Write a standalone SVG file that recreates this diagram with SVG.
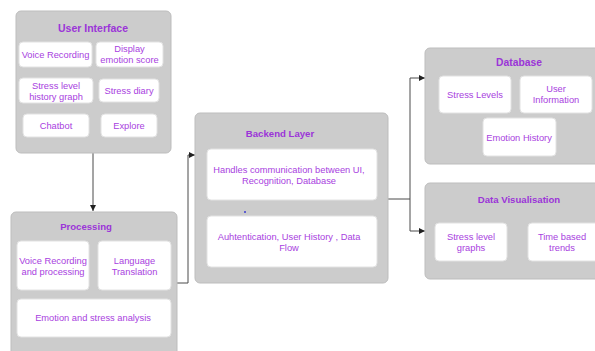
<svg xmlns="http://www.w3.org/2000/svg" width="595" height="351" viewBox="0 0 595 351">
<style>
.outer{fill:#cccccc;stroke:#bdbdbd;stroke-width:1}
.inner{fill:#ffffff;stroke:#e2e2e2;stroke-width:1}
.t{font-family:"Liberation Sans",Arial,sans-serif;font-size:9.3px;fill:#a83ee0;text-anchor:middle}
.h{font-family:"Liberation Sans",Arial,sans-serif;font-size:9.6px;font-weight:bold;fill:#9b34d8;text-anchor:middle}
.c{fill:none;stroke:#4a4a4a;stroke-width:1}
</style>
<defs>
<marker id="ar" viewBox="0 0 6 6" refX="6" refY="3" markerWidth="6" markerHeight="6" orient="auto" markerUnits="userSpaceOnUse">
<path d="M0,0 L6,3 L0,6 z" fill="#222"/>
</marker>
</defs>
<rect width="595" height="351" fill="#ffffff"/>
<g id="connectors">
<path class="c" d="M93,153 V211" marker-end="url(#ar)"/>
<path class="c" d="M177,283 H188 V155 H195" marker-end="url(#ar)"/>
<path class="c" d="M388,199 H410 V78 H425" marker-end="url(#ar)"/>
<path class="c" d="M410,199 V231 H425" marker-end="url(#ar)"/>
</g>
<g id="user-interface">
<rect class="outer" x="16" y="11" width="155" height="142" rx="5"/>
<text class="h" x="93" y="32" style="font-size:10.5px">User Interface</text>
<rect class="inner" x="19" y="42" width="73" height="25" rx="4"/>
<text class="t" x="55.5" y="58">Voice Recording</text>
<rect class="inner" x="96" y="42" width="67" height="25" rx="4"/>
<text class="t" x="129.5" y="52">Display</text>
<text class="t" x="129.5" y="63">emotion score</text>
<rect class="inner" x="19" y="78" width="74" height="25" rx="4"/>
<text class="t" x="56" y="89">Stress level</text>
<text class="t" x="56" y="100">history graph</text>
<rect class="inner" x="99" y="79" width="60" height="23" rx="4"/>
<text class="t" x="129" y="94">Stress diary</text>
<rect class="inner" x="23" y="114" width="66" height="23" rx="4"/>
<text class="t" x="56" y="129">Chatbot</text>
<rect class="inner" x="101" y="114" width="56" height="23" rx="4"/>
<text class="t" x="129" y="129">Explore</text>
</g>
<g id="processing">
<rect class="outer" x="11" y="212" width="166" height="150" rx="5"/>
<text class="h" x="86" y="229.5">Processing</text>
<rect class="inner" x="17" y="241" width="72" height="49" rx="4"/>
<text class="t" x="53" y="264">Voice Recording</text>
<text class="t" x="53" y="275">and processing</text>
<rect class="inner" x="98" y="241" width="73" height="49" rx="4"/>
<text class="t" x="134.5" y="264">Language</text>
<text class="t" x="134.5" y="275">Translation</text>
<rect class="inner" x="17" y="299" width="154" height="38" rx="4"/>
<text class="t" x="93" y="321">Emotion and stress analysis</text>
</g>
<g id="backend">
<rect class="outer" x="195" y="113" width="193" height="170" rx="5"/>
<text class="h" x="280" y="136.5">Backend Layer</text>
<rect class="inner" x="207" y="149" width="170" height="51" rx="4"/>
<text class="t" x="289" y="173">Handles communication between UI,</text>
<text class="t" x="289" y="184">Recognition, Database</text>
<circle cx="245" cy="212" r="1" fill="#3b3bd0"/>
<rect class="inner" x="207" y="216" width="170" height="51" rx="4"/>
<text class="t" x="289" y="240">Auhtentication, User History , Data</text>
<text class="t" x="289" y="251">Flow</text>
</g>
<g id="database">
<rect class="outer" x="425" y="48" width="175" height="116" rx="5"/>
<text class="h" x="519" y="65.5" style="font-size:10.3px">Database</text>
<rect class="inner" x="439" y="76" width="72" height="37" rx="4"/>
<text class="t" x="475" y="98">Stress Levels</text>
<rect class="inner" x="520" y="76" width="72" height="37" rx="4"/>
<text class="t" x="556" y="92">User</text>
<text class="t" x="556" y="103">Information</text>
<rect class="inner" x="483" y="118" width="73" height="38" rx="4"/>
<text class="t" x="519" y="141">Emotion History</text>
</g>
<g id="data-visualisation">
<rect class="outer" x="425" y="183" width="175" height="96" rx="5"/>
<text class="h" x="519" y="202.5">Data Visualisation</text>
<rect class="inner" x="435" y="223" width="72" height="38" rx="4"/>
<text class="t" x="471" y="240">Stress level</text>
<text class="t" x="471" y="251">graphs</text>
<rect class="inner" x="528" y="223" width="72" height="38" rx="4"/>
<text class="t" x="562" y="240">Time based</text>
<text class="t" x="562" y="251">trends</text>
</g>
</svg>
